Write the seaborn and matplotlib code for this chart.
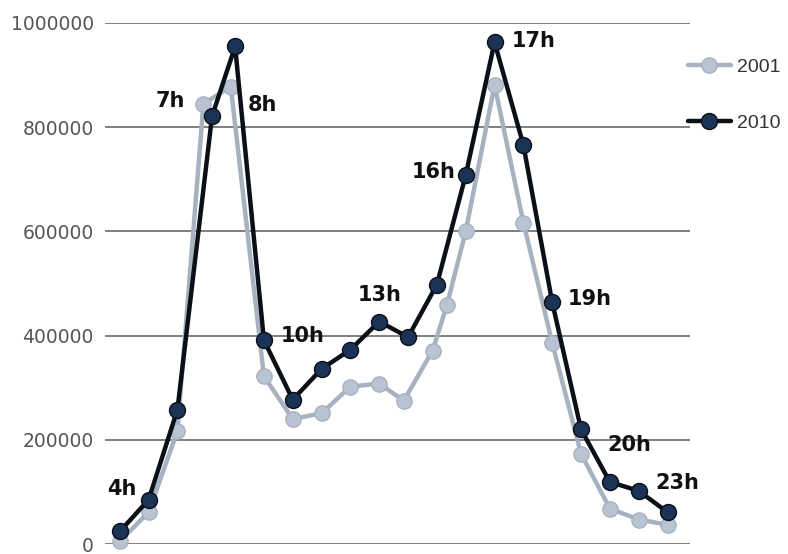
import matplotlib
matplotlib.use("Agg")
import matplotlib.pyplot as plt
import seaborn as sns
import pandas as pd

# ------------------------------
# Data
# ------------------------------
x_2010 = [0, 1, 2, 3.2, 4, 5, 6, 7, 8, 9, 10, 11, 12, 13, 14, 15, 16, 17, 18, 19]
vals_2010 = [24000, 85000, 258000, 821000, 955000, 391000, 277000, 336000, 373000, 427000,
             397000, 498000, 708000, 963000, 766000, 464000, 220000, 119000, 102000, 61000]

# the 2001 line has one extra point between slots 10 and 12
x_2001 = [0, 1, 2, 2.9, 3.85, 5, 6, 7, 8, 9, 9.85, 10.85, 11.35, 12, 13, 14, 15, 16, 17, 18, 19]
vals_2001 = [5000, 61000, 217000, 845000, 878000, 322000, 240000, 251000, 302000, 308000,
             275000, 371000, 459000, 600000, 881000, 617000, 386000, 173000, 68000, 47000, 37000]

hour_labels = ["4h", "7h", "8h", "10h", "13h", "16h", "17h", "19h", "20h", "23h"]
hour_idx = [1, 3, 4, 6, 9, 12, 13, 15, 16, 19]

y_ticks = [0, 200000, 400000, 600000, 800000, 1000000]

# ------------------------------
# Style
# ------------------------------
sns.set_style("white")
plt.rcParams['font.family'] = ['DejaVu Sans']

df = pd.concat([
    pd.DataFrame({"slot": x_2001, "value": vals_2001, "year": "2001"}),
    pd.DataFrame({"slot": x_2010, "value": vals_2010, "year": "2010"}),
])

fig = plt.figure(figsize=(7.88, 5.54), dpi=100)
# 0-line at ~544 px, 1M-line at ~23 px
ax = fig.add_axes([0.133, 10 / 554, 0.743, 521 / 554])

for y in y_ticks:
    ax.axhline(y, color="#7f7f7f", lw=1.4, zorder=0)

sns.lineplot(data=df[df.year == "2001"], x="slot", y="value", ax=ax,
             color="#a7b2c0", lw=3.2, marker="o", markersize=11,
             markerfacecolor="#b9c4d3", markeredgecolor="#a7b2c0", markeredgewidth=1,
             clip_on=False, zorder=2, label="2001")
sns.lineplot(data=df[df.year == "2010"], x="slot", y="value", ax=ax,
             color="#0b0f16", lw=3.2, marker="o", markersize=11.5,
             markerfacecolor="#1b3356", markeredgecolor="#0b0f16", markeredgewidth=1,
             clip_on=False, zorder=3, label="2010")

# hour annotations, offsets in points
offsets = {"4h": (-19, 8), "7h": (-30, 11), "8h": (20, -42), "10h": (7, 46),
           "13h": (0, 19), "16h": (-23, 2), "17h": (28, 1), "19h": (27, 2),
           "20h": (35, -11), "23h": (7, 21)}
for lab, i in zip(hour_labels, hour_idx):
    ax.annotate(lab, (x_2010[i], vals_2010[i]), xytext=offsets[lab], textcoords="offset points",
                ha="center", va="center", fontsize=15, fontweight="bold", color="#111111",
                zorder=4)

ax.set_xlim(-0.52, 19.79)
ax.set_ylim(0, 1000000)
ax.set_yticks(y_ticks)
ax.set_yticklabels([str(v) for v in y_ticks])
ax.tick_params(axis="y", labelsize=13.5, labelcolor="#555555", length=0, pad=8)
ax.set_xticks([])
ax.set_xlabel("")
ax.set_ylabel("")
for s in ax.spines.values():
    s.set_visible(False)

handles, labels = ax.get_legend_handles_labels()
ax.get_legend().remove()
fig.legend(handles, labels, loc="upper left", bbox_to_anchor=(688 / 788, 1 - 58 / 554),
           frameon=False, borderpad=0, borderaxespad=0, labelspacing=2.0,
           handlelength=2.2, handletextpad=0.3,
           prop={"family": "Liberation Sans", "size": 14}, labelcolor="#333333")

fig.savefig("out.png", dpi=100)
